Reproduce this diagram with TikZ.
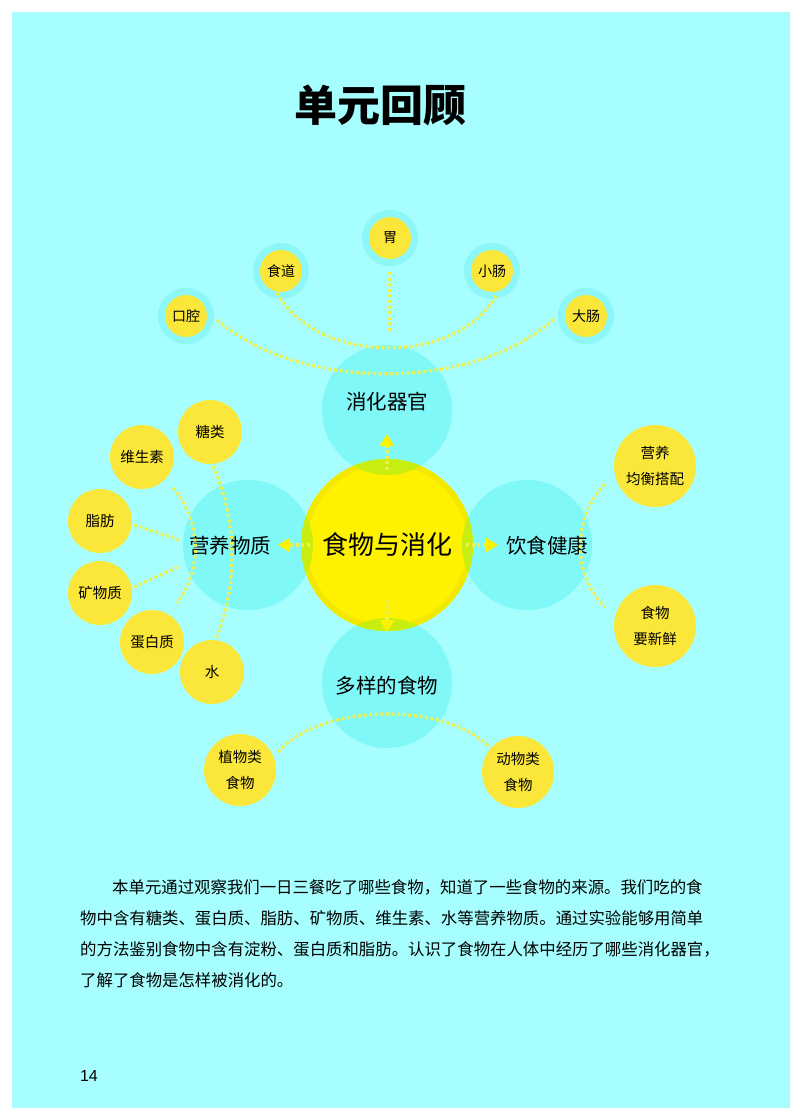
\documentclass[tikz,border=0pt]{standalone}
\usepackage{fontspec}
\setmainfont{Noto Sans CJK SC}
\newfontfamily\numfont{Liberation Sans}
\usetikzlibrary{arrows.meta}
\definecolor{bg}{HTML}{A6FEFE}
\definecolor{cy}{HTML}{80F8F8}
\definecolor{glowc}{HTML}{8CF6F8}
\definecolor{yc}{HTML}{FFF200}
\definecolor{yring}{HTML}{F2E800}
\definecolor{ys}{HTML}{FBE63A}
\definecolor{gr}{HTML}{C8EE10}
\definecolor{dotc}{HTML}{EEF050}
\tikzset{
  dotl/.style={draw=dotc,line width=3.2pt,dash pattern=on 3pt off 2.6pt},
  arr/.style={dotl,-{Triangle[length=12pt,width=14pt,fill=yc,color=yc]}},
  small/.style={circle,fill=ys,minimum size=42pt,inner sep=0pt,font=\fontsize{14}{16}\selectfont},
  mid/.style={circle,fill=ys,minimum size=64pt,inner sep=0pt,font=\fontsize{14.5}{17}\selectfont},
  big/.style={circle,fill=ys,minimum size=82pt,inner sep=0pt,align=center,font=\fontsize{14.5}{26}\selectfont},
  bot/.style={circle,fill=ys,minimum size=72pt,inner sep=0pt,align=center,font=\fontsize{14.5}{26}\selectfont},
  lab/.style={font=\fontsize{20.5}{22}\selectfont},
  para/.style={anchor=west,inner sep=0pt,font=\fontsize{16.4}{18}\selectfont}
}
\begin{document}
\begin{tikzpicture}[x=1pt,y=-1pt]
\useasboundingbox (0,0) rectangle (800,1120);
\fill[white] (0,0) rectangle (800,1120);
\fill[bg] (12,12) rectangle (790,1108);
\node (title) at (380,105) {\fontsize{43}{45}\selectfont\bfseries 单元回顾};
% cyan circles
\fill[cy] (387,410) circle (65);
\fill[cy] (248,545) circle (65);
\fill[cy] (527,545) circle (65);
\fill[cy] (387,683) circle (65);
% center yellow
\fill[yring] (387,545) circle (86);
\fill[yc] (387,545) circle (80);
\begin{scope}
\clip (387,545) circle (86);
\fill[gr] (387,410) circle (65);
\fill[gr] (248,545) circle (65);
\fill[gr] (527,545) circle (65);
\fill[gr] (387,683) circle (65);
\end{scope}
\node[font=\fontsize{26}{28}\selectfont] (c) at (387,545) {食物与消化};
\node[lab] (top) at (387,402) {消化器官};
\node[lab] (left) at (230,546) {营养物质};
\node[lab] (right) at (547,546) {饮食健康};
\node[lab] (down) at (387,686) {多样的食物};
% arrows
\coordinate (a1) at (387,470); \coordinate (t1) at (387,434);
\coordinate (a2) at (310,545); \coordinate (t2) at (278,545);
\coordinate (a3) at (466,545); \coordinate (t3) at (498,545);
\coordinate (a4) at (387,600); \coordinate (t4) at (387,632);
\draw[arr] (a1) -- (t1);
\draw[arr] (a2) -- (t2);
\draw[arr] (a3) -- (t3);
\draw[arr] (a4) -- (t4);
% top organs
\foreach \x/\y in {186/316,281/271,390/238,492/271,586/316}{\fill[glowc] (\x,\y) circle (28);}
\node[small] (kq) at (186,316) {口腔};
\node[small] (sd) at (281,271) {食道};
\node[small] (w) at (390,238) {胃};
\node[small] (xc) at (492,271) {小肠};
\node[small] (dc) at (586,316) {大肠};
\coordinate (o1) at (217,320); \coordinate (o2) at (555,318);
\coordinate (i1) at (277,293); \coordinate (i2) at (497,294);
\coordinate (v1) at (390,272); \coordinate (v2) at (390,332);
\draw[dotl] (o1) .. controls (300,392) and (475,392) .. (o2);
\draw[dotl] (i1) .. controls (318,366) and (458,366) .. (i2);
\draw[dotl] (v1) -- (v2);
% left nutrients
\node[mid] (tl) at (210,432) {糖类};
\node[mid] (wss) at (142,457) {维生素};
\node[mid] (zf) at (100,521) {脂肪};
\node[mid] (kwz) at (100,593) {矿物质};
\node[mid] (dbz) at (152,642) {蛋白质};
\node[mid] (s) at (212,672) {水};
\coordinate (l1) at (213,466); \coordinate (l2) at (215,640);
\coordinate (m1) at (173,488); \coordinate (m2) at (177,603);
\coordinate (f1) at (134,525); \coordinate (f2) at (180,540);
\coordinate (k1) at (134,587); \coordinate (k2) at (180,566);
\draw[dotl] (l1) .. controls (238,520) and (238,590) .. (l2);
\draw[dotl] (m1) .. controls (202,520) and (202,572) .. (m2);
\draw[dotl] (f1) -- (f2);
\draw[dotl] (k1) -- (k2);
% right
\node[big] (yy) at (655,466) {营养\\均衡搭配};
\node[big] (sw) at (655,626) {食物\\要新鲜};
\coordinate (r1) at (605,484); \coordinate (r2) at (605,607);
\draw[dotl] (r1) .. controls (572,518) and (572,575) .. (r2);
% bottom
\node[bot] (zw) at (240,770) {植物类\\食物};
\node[bot] (dw) at (518,772) {动物类\\食物};
\coordinate (b1) at (278,752); \coordinate (b2) at (490,748);
\draw[dotl] (b1) .. controls (322,702) and (448,702) .. (b2);
% paragraph
\node[para] (p1) at (112,887) {本单元通过观察我们一日三餐吃了哪些食物，知道了一些食物的来源。我们吃的食};
\node[para] (p2) at (80,918) {物中含有糖类、蛋白质、脂肪、矿物质、维生素、水等营养物质。通过实验能够用简单};
\node[para] (p3) at (80,949) {的方法鉴别食物中含有淀粉、蛋白质和脂肪。认识了食物在人体中经历了哪些消化器官，};
\node[para] (p4) at (80,980) {了解了食物是怎样被消化的。};
\node[font=\numfont\fontsize{16}{18}\selectfont] (pg) at (89,1076) {14};
\end{tikzpicture}
\end{document}
